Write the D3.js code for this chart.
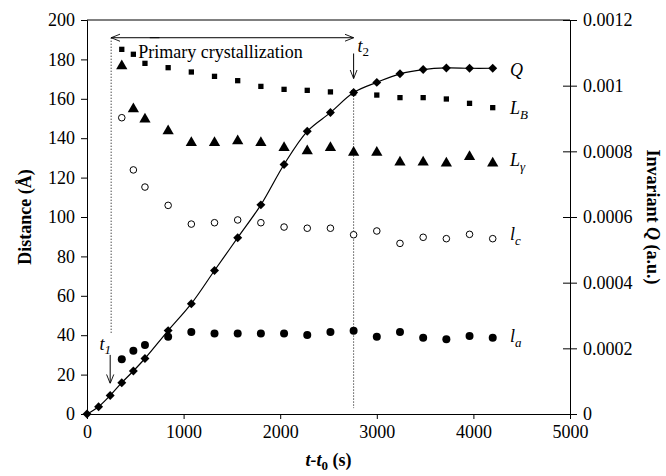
<!DOCTYPE html>
<html><head><meta charset="utf-8">
<script src="https://cdn.jsdelivr.net/npm/d3@7"></script>
<style>body{margin:0;background:#fff}svg{display:block}svg text{font-family:"Liberation Serif","DejaVu Serif",serif !important;fill:#000}</style>
</head><body><svg id="c" width="666" height="476"></svg>
<script>
const qTimes = [0,120,240,360,480,600,840,1080,1320,1560,1800,2040,2280,2520,2760,3000,3240,3480,3720,3960,4200];
const invariantQ = [0,0.0000222,0.0000564,0.0000954,0.000131,0.000169,0.000254,0.000336,0.000437,0.000537,0.000637,0.00076,0.000861,0.000918,0.000979,0.00101,0.001036,0.001049,0.001054,0.001053,0.001053];
const sTimes = [360,480,600,840,1080,1320,1560,1800,2040,2280,2520,2760,3000,3240,3480,3720,3960,4200];
const LB = [185.1,182.6,178,175.8,173.6,171.4,169.2,166.3,164.8,164.3,163.5,163,161.9,160.6,160.6,159.9,157.7,155.5];
const Lgamma = [176.6,154.8,149.6,143.7,137.7,137.7,138.6,137.7,135.2,133.5,135.2,132.8,132.8,127.8,127.8,127.3,130.6,127.3];
const lc = [150.4,123.9,115.2,105.9,96.4,97.1,98.5,97.1,94.9,94.3,94.3,91,92.9,86.6,89.7,89,91.2,89];
const la = [27.8,32.1,35,39.2,41.6,40.8,40.8,40.8,40.8,40.1,41.6,42.3,39.2,41.6,38.7,37.9,39.6,38.7];
const xTicks = [0,1000,2000,3000,4000,5000];
const yTicks = [0,20,40,60,80,100,120,140,160,180,200];
const y2Ticks = [0,0.0002,0.0004,0.0006,0.0008,0.001,0.0012];
const t1 = 250, t2 = 2760;

const FONT = '"Liberation Serif","DejaVu Serif",serif';
const svg = d3.select("#c");
const m = {l:87, r:96, t:20, b:62};
const W = 666, H = 476;
const x = d3.scaleLinear().domain([0,5000]).range([m.l, W-m.r]);
const y = d3.scaleLinear().domain([0,200]).range([H-m.b, m.t]);
const y2 = d3.scaleLinear().domain([0,0.0012]).range([H-m.b, m.t]);
const FS = 18;

svg.append("line").attr("x1",x(0)).attr("x2",x(5000)).attr("y1",y(200)).attr("y2",y(200)).attr("stroke","#000").attr("stroke-width",1);

const gx = svg.append("g").attr("transform",`translate(0,${y(0)})`)
  .call(d3.axisBottom(x).tickValues(xTicks).tickFormat(d3.format("d")).tickSizeOuter(0).tickSize(5).tickPadding(6));
const gy = svg.append("g").attr("transform",`translate(${x(0)},0)`)
  .call(d3.axisLeft(y).tickValues(yTicks).tickSizeOuter(0).tickSize(6).tickPadding(6));
const gy2 = svg.append("g").attr("transform",`translate(${x(5000)},0)`)
  .call(d3.axisRight(y2).tickValues(y2Ticks).tickFormat(d=>d===0?"0":String(+d.toPrecision(2))).tickSizeOuter(0).tickSize(7).tickPadding(6));
gy2.selectAll(".tick line").attr("x1",-7);
[gx,gy,gy2].forEach(g=>{g.attr("font-family",FONT).attr("font-size",FS);g.selectAll("text").attr("font-size",FS).attr("font-family",FONT);g.selectAll("path,line").attr("stroke","#000");});

const qData = qTimes.map((t,i)=>({t,v:invariantQ[i]}));
svg.append("path").datum(qData).attr("fill","none").attr("stroke","#000").attr("stroke-width",1.2)
  .attr("d", d3.line().x(d=>x(d.t)).y(d=>y2(d.v)).curve(d3.curveCatmullRom.alpha(0.5)));

const defs = svg.append("defs");
defs.append("marker").attr("id","ah").attr("viewBox","0 0 10 10").attr("refX",10).attr("refY",5)
  .attr("markerWidth",9).attr("markerHeight",9).attr("markerUnits","userSpaceOnUse").attr("orient","auto")
  .append("path").attr("d","M0,1 L10,5 L0,9").attr("fill","none").attr("stroke","#000").attr("stroke-width",1);
svg.append("line").attr("x1",x(t1)).attr("x2",x(t1)).attr("y1",y(191)).attr("y2",y(41)).attr("stroke","#000").attr("stroke-dasharray","1,2");
svg.append("line").attr("x1",x(t2)).attr("x2",x(t2)).attr("y1",y2(0.000979)).attr("y2",y(3)).attr("stroke","#000").attr("stroke-dasharray","1,2");
svg.append("line").attr("x1",x(t1+500)).attr("x2",x(t1)).attr("y1",y(191)).attr("y2",y(191)).attr("stroke","#000").attr("marker-end","url(#ah)");
svg.append("line").attr("x1",x(t1+400)).attr("x2",x(t2)).attr("y1",y(191)).attr("y2",y(191)).attr("stroke","#000").attr("marker-end","url(#ah)");
svg.append("line").attr("x1",x(240)).attr("x2",x(240)).attr("y1",y(30)).attr("y2",y(15.5)).attr("stroke","#000").attr("marker-end","url(#ah)");
svg.append("line").attr("x1",x(t2)).attr("x2",x(t2)).attr("y1",y(183)).attr("y2",y(170.3)).attr("stroke","#000").attr("marker-end","url(#ah)");

svg.append("text").attr("x",x(530)).attr("y",y(180.5)).attr("font-family",FONT).attr("font-size",FS).text("Primary crystallization");
const t1l = svg.append("text").attr("x",x(130)).attr("y",y(32.5)).attr("font-family",FONT).attr("font-size",FS).attr("font-style","italic");
t1l.append("tspan").text("t"); t1l.append("tspan").attr("dy",4).attr("font-size",13).text("1");
const t2l = svg.append("text").attr("x",x(2800)).attr("y",y(184)).attr("font-family",FONT).attr("font-size",FS).attr("font-style","italic");
t2l.append("tspan").text("t"); t2l.append("tspan").attr("dy",4).attr("font-size",13).attr("font-style","normal").text("2");

const sym = (type,size)=>d3.symbol().type(type).size(size)();
svg.append("g").selectAll("path").data(sTimes.map((t,i)=>({t,v:LB[i]}))).join("path")
  .attr("transform",d=>`translate(${x(d.t)},${y(d.v)})`).attr("d",sym(d3.symbolSquare,28)).attr("fill","#000");
svg.append("g").selectAll("path").data(sTimes.map((t,i)=>({t,v:Lgamma[i]}))).join("path")
  .attr("transform",d=>`translate(${x(d.t)},${y(d.v)})`).attr("d",sym(d3.symbolTriangle,55)).attr("fill","#000");
svg.append("g").selectAll("circle").data(sTimes.map((t,i)=>({t,v:lc[i]}))).join("circle")
  .attr("cx",d=>x(d.t)).attr("cy",d=>y(d.v)).attr("r",3.3).attr("fill","#fff").attr("stroke","#000").attr("stroke-width",1);
svg.append("g").selectAll("circle").data(sTimes.map((t,i)=>({t,v:la[i]}))).join("circle")
  .attr("cx",d=>x(d.t)).attr("cy",d=>y(d.v)).attr("r",4).attr("fill","#000");
svg.append("g").selectAll("path").data(qData).join("path")
  .attr("transform",d=>`translate(${x(d.t)},${y2(d.v)}) rotate(45)`).attr("d",sym(d3.symbolSquare,40)).attr("fill","#000");

function lab(main, sub, yy){
  const t = svg.append("text").attr("x",x(4380)).attr("y",yy).attr("font-family",FONT).attr("font-size",FS).attr("font-style","italic");
  t.append("tspan").text(main);
  if(sub) t.append("tspan").attr("dy",5).attr("font-size",13).text(sub);
}
lab("Q",null,76); lab("L","B",114); lab("L","γ",166); lab("l","c",240); lab("l","a",342);

svg.append("text").attr("transform",`translate(31,${(y(0)+y(200))/2}) rotate(-90)`).attr("text-anchor","middle")
  .attr("font-family",FONT).attr("font-size",FS).attr("font-weight","bold").text("Distance (Å)");
const rt = svg.append("text").attr("transform",`translate(647,${(y(0)+y(200))/2}) rotate(90)`).attr("text-anchor","middle")
  .attr("font-family",FONT).attr("font-size",FS).attr("font-weight","bold");
rt.append("tspan").text("Invariant ");
rt.append("tspan").attr("font-style","italic").text("Q");
rt.append("tspan").text(" (a.u.)");
const xt = svg.append("text").attr("x",(x(0)+x(5000))/2).attr("y",466).attr("text-anchor","middle").attr("font-family",FONT).attr("font-size",FS).attr("font-weight","bold");
xt.append("tspan").attr("font-style","italic").text("t-t");
xt.append("tspan").attr("dy",4).attr("font-size",13).text("0");
xt.append("tspan").attr("dy",-4).text(" (s)");
</script></body></html>
